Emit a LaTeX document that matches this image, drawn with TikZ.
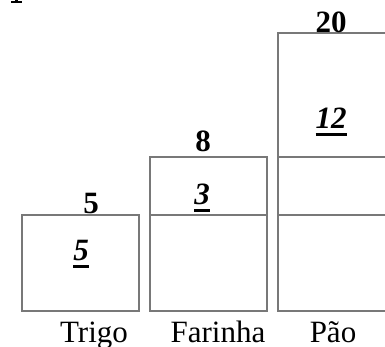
\documentclass[tikz,border=0pt]{standalone}
\usepackage{fontspec}
\setmainfont{Liberation Serif}
\newcommand\myul[1]{\setbox0\hbox{#1}\rlap{\rule[-8pt]{\wd0}{3pt}}\box0}
\begin{document}
\begin{tikzpicture}[x=1pt,y=-1pt,
  box/.style={draw={rgb,255:red,120;green,120;blue,120},line width=1.1pt},
  txt/.style={anchor=base,inner sep=0pt,font=\fontsize{31}{31}\selectfont},
  tot/.style={txt,font=\fontsize{31}{31}\selectfont\bfseries},
  part/.style={txt,font=\fontsize{31}{31}\selectfont\bfseries\itshape}]
\clip (0,0) rectangle (385,346);
\fill (15,-1) rectangle (18,2);
\fill (11,1) rectangle (22,2.5);
% Trigo
\draw[box] (22,215) rectangle (139,311);
% Farinha
\draw[box] (150,157) rectangle (267,311);
\draw[box] (150,215) -- (267,215);
% Pao
\draw[box] (278,33) rectangle (400,311);
\draw[box] (278,157) -- (400,157);
\draw[box] (278,215) -- (400,215);
\node[tot] (t1) at (91,213) {5};
\node[part] (p1) at (81,260) {\myul{5}};
\node[tot] (t2) at (203,151) {8};
\node[part] (p2) at (202,204) {\myul{3}};
\node[tot] (t3) at (331,32) {20};
\node[part] (p3) at (331,128) {\myul{12}};
\node[txt] (l1) at (94,342) {Trigo};
\node[txt] (l2) at (218,342) {Farinha};
\node[txt] (l3) at (333,342) {Pão};
\end{tikzpicture}
\end{document}
